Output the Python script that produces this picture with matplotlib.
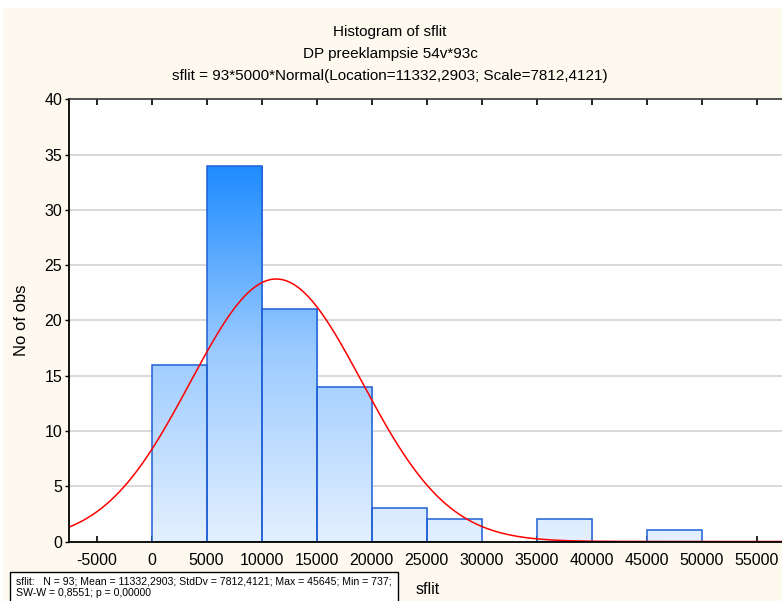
import numpy as np
import matplotlib
matplotlib.use("Agg")
import matplotlib.pyplot as plt
from matplotlib.colors import LinearSegmentedColormap
from matplotlib.patches import Rectangle

# ---- data ----
bin_edges = [0, 5000, 10000, 15000, 20000, 25000, 30000, 35000, 40000, 45000, 50000]
counts = [16, 34, 21, 14, 3, 2, 0, 2, 0, 1]
x_ticks = [-5000, 0, 5000, 10000, 15000, 20000, 25000, 30000, 35000, 40000, 45000, 50000, 55000]
y_ticks = [0, 5, 10, 15, 20, 25, 30, 35, 40]
n_obs = 93
bin_width = 5000
mu = 11332.2903
sigma = 7812.4121
title_lines = ["Histogram of sflit", "DP preeklampsie 54v*93c",
               "sflit = 93*5000*Normal(Location=11332,2903; Scale=7812,4121)"]
stats_text = ("sflit:   N = 93; Mean = 11332,2903; StdDv = 7812,4121; Max = 45645; Min = 737;\n"
              "SW-W = 0,8551; p = 0,00000")

plt.rcParams['font.family'] = ['Liberation Sans', 'DejaVu Sans']

W, H = 782, 601
fig = plt.figure(figsize=(W / 100, H / 100), dpi=100)
fig.patch.set_facecolor('white')
bg = '#FDF9EE'
fig.add_artist(Rectangle((3 / W, 0), 1, 1 - 8 / H, transform=fig.transFigure,
                         facecolor=bg, edgecolor='none', zorder=-10))

def fx(px):
    return px / W

def fy(py):
    return 1 - py / H

ax_left, ax_right, ax_top, ax_bottom = 69, 784.2, 99.3, 541.5
ax = fig.add_axes([fx(ax_left), fy(ax_bottom), (ax_right - ax_left) / W, (ax_bottom - ax_top) / H])
ax.set_facecolor('white')
xlim = (-7500, 57500)
ylim = (0, 40)

# grid
for yt in y_ticks[1:-1]:
    ax.axhline(yt, color='#D9D9D9', lw=1.4, zorder=0.5)

# gradient bars
cmap = LinearSegmentedColormap.from_list('blu', ['#E4F0FF', '#9CCBFF', '#1E8CFF'])
grad = np.linspace(0, 1, 256).reshape(-1, 1)
ymax = max(counts)
for i, c in enumerate(counts):
    if c <= 0:
        continue
    x0, x1 = bin_edges[i], bin_edges[i + 1]
    rect = Rectangle((x0, 0), x1 - x0, c, facecolor='none', edgecolor='#1F5FD6', lw=1.1, zorder=3)
    ax.add_patch(rect)
    im = ax.imshow(grad, cmap=cmap, origin='lower', extent=[x0, x1, 0, ymax],
                   aspect='auto', zorder=2, interpolation='bilinear')
    clip = Rectangle((x0, 0), x1 - x0, c, transform=ax.transData)
    im.set_clip_path(clip)

# normal curve
xs = np.linspace(xlim[0], xlim[1], 800)
ys = n_obs * bin_width * np.exp(-0.5 * ((xs - mu) / sigma) ** 2) / (sigma * np.sqrt(2 * np.pi))
ax.plot(xs, ys, color='#FF0000', lw=1.1, zorder=4)

ax.set_xlim(xlim)
ax.set_ylim(ylim)

ax.set_xticks(x_ticks)
ax.set_xticklabels([str(t) for t in x_ticks])
ax.set_yticks(y_ticks)
ax.set_yticklabels([str(t) for t in y_ticks])
ax.tick_params(axis='x', direction='in', length=4, width=1.2, top=True, bottom=True,
               labelsize=11.5, pad=8, colors='black')
ax.tick_params(axis='y', direction='out', length=3, width=1.0, left=True, right=False,
               labelsize=11.5, pad=2)

for s in ['left', 'bottom']:
    ax.spines[s].set_color('black')
    ax.spines[s].set_linewidth(1.3)
ax.spines['top'].set_color('#333333')
ax.spines['top'].set_linewidth(1.2)
ax.spines['right'].set_visible(False)
for s in ax.spines.values():
    s.set_zorder(5)

# titles
fig.text(fx(390), fy(32), title_lines[0], ha='center', va='center', fontsize=11)
fig.text(fx(390), fy(54), title_lines[1], ha='center', va='center', fontsize=11)
fig.text(fx(390), fy(76), title_lines[2], ha='center', va='center', fontsize=11)

# y label
fig.text(fx(22), fy(320), "No of obs", rotation=90, ha='center', va='center', fontsize=12)
# x label
fig.text(fx(428), fy(590), "sflit", ha='center', va='center', fontsize=11.5)

# stats box
fig.add_artist(Rectangle((fx(10), fy(603)), fx(398) - fx(10), fy(572) - fy(603),
                         transform=fig.transFigure, facecolor='white', edgecolor='black', lw=1.0))
fig.text(fx(16), fy(587), stats_text, ha='left', va='center', fontsize=7.6, linespacing=1.25)

fig.savefig('out.png', dpi=100, facecolor=fig.get_facecolor())
